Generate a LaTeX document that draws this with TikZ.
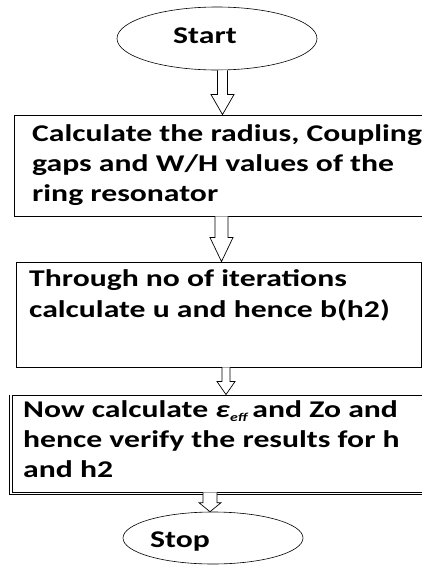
\documentclass[tikz,border=0pt]{standalone}
\usepackage{fontspec}
\setmainfont{Carlito}[FakeStretch=1.32]
\usetikzlibrary{shapes.geometric,calc}
\tikzset{
  term/.style={draw, ellipse, line width=0.6pt, inner sep=0pt},
  procbox/.style={draw, rectangle, line width=0.9pt, inner sep=0pt},
  txt/.style={anchor=base west, align=left, inner sep=0pt, font=\bfseries\fontsize{24}{30}\selectfont},
  blockarr/.style={draw, line width=0.7pt, fill=white},
}
% #1 x, #2 from node, #3 to node, #4 shaft half width, #5 head half width, #6 head length
\newcommand\blockarrow[6]{%
  \draw[blockarr] let \p1=(#2.south), \p2=(#3.north) in
    (#1-#4,\y1) -- (#1-#4,\y2+#6) -- (#1-#5,\y2+#6) -- (#1,\y2) -- (#1+#5,\y2+#6) -- (#1+#4,\y2+#6) -- (#1+#4,\y1);}
\begin{document}
\begin{tikzpicture}[x=1pt,y=-1pt]
\useasboundingbox (0,0) rectangle (422,565);
% terminals
\node[term, minimum width=200, minimum height=63] (start) at (217,38.5) {};
\node[txt] (tstart) at (173,43) {Start};
\node[term, minimum width=180, minimum height=52] (stop) at (213,538) {};
\node[txt] (tstop) at (150,547) {Stop};
% boxes
\node[procbox, minimum width=416, minimum height=101] (b1) at (222,165.5) {};
\node[txt] (t1) at (32,201) {Calculate the radius, Coupling\\gaps and W/H values of the\\ring resonator};
\node[procbox, minimum width=405, minimum height=105] (b2) at (218.5,314.5) {};
\node[txt, font=\bfseries\fontsize{24}{31}\selectfont] (t2) at (29,317) {Through no of iterations\\calculate u and hence b(h2)};
\node[procbox, minimum width=418, minimum height=97] (b3) at (221,443.5) {};
\draw[line width=0.9pt] (b3.north west) ++(-2.5,0) -- ++(0,100) -- ++(430,0);
\node[txt] (t3) at (23,477) {Now calculate \textit{ε}\raisebox{-0.35ex}{\fontsize{12}{12}\selectfont\textit{eff}}\,and Zo and\\hence verify the results for h\\and h2};
% arrows
\blockarrow{222.5}{start}{b1}{5}{11.5}{20}
\blockarrow{221.5}{b1}{b2}{6.5}{11.5}{24}
\blockarrow{226}{b2}{b3}{4}{9}{13}
\blockarrow{210}{b3}{stop}{7}{11}{9}
\end{tikzpicture}
\end{document}
